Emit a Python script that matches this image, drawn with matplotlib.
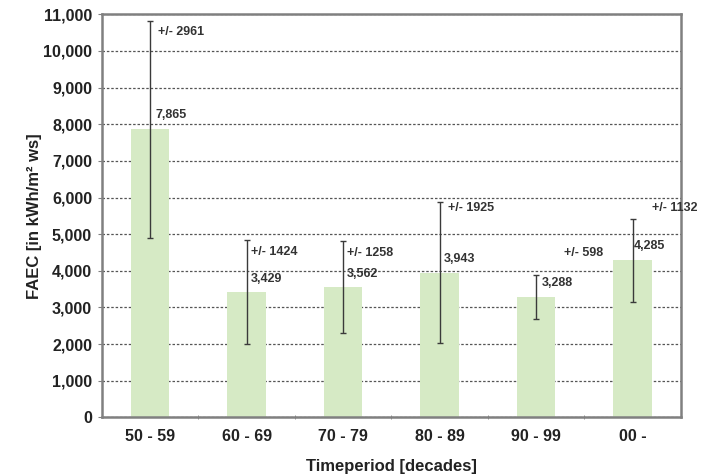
import numpy as np
import matplotlib.pyplot as plt

# decades and mean FAEC values with their spread
periods = ['50 - 59', '60 - 69', '70 - 79', '80 - 89', '90 - 99', '00 -']
faec = [7865, 3429, 3562, 3943, 3288, 4285]
spread = [2961, 1424, 1258, 1925, 598, 1132]

# label offsets in points (value label, spread label), tuned by eye
val_off = [(4, 6), (3, 5), (3, 5), (3, 6), (4, 6), (1, 6)]
err_off = [(6, -8), (3, -9), (3, -9), (6, -4), (20, 16), (14, 8)]

plt.rcParams['font.family'] = ['Liberation Sans', 'DejaVu Sans']
plt.rcParams['font.weight'] = 'bold'
plt.rcParams['axes.labelweight'] = 'bold'

fig = plt.figure(figsize=(7.07, 4.76), dpi=100)
ax = fig.add_axes([0.144, 0.123, 0.819, 0.847])

x = np.arange(len(periods))
ax.bar(x, faec, width=0.4, color='#d6eac5', zorder=2)
ax.errorbar(x, faec, yerr=spread, fmt='none', ecolor='#3a3a3a',
            elinewidth=1.0, capsize=2.5, capthick=1.0, zorder=3)

for i in range(len(x)):
    ax.annotate(f'{faec[i]:,}', (x[i], faec[i]), xytext=val_off[i],
                textcoords='offset points', fontsize=9, color='#333333',
                ha='left', va='bottom', zorder=4)
    ax.annotate(f'+/- {spread[i]}', (x[i], faec[i] + spread[i]), xytext=err_off[i],
                textcoords='offset points', fontsize=9, color='#333333',
                ha='left', va='center', zorder=4)

ax.set_xlim(-0.5, len(x) - 0.5)
ax.set_ylim(0, 11000)
ax.set_yticks(np.arange(0, 11001, 1000))
ax.set_yticklabels([f'{v:,}' for v in range(0, 11001, 1000)], fontsize=11.5, color='#222222')
ax.set_xticks(x)
ax.set_xticklabels(periods, fontsize=11.5, color='#222222')
ax.set_xticks(np.arange(0.5, len(x) - 0.5, 1), minor=True)
ax.tick_params(axis='x', which='major', length=0, pad=8)
ax.tick_params(axis='x', which='minor', length=3, direction='inout', color='#808080')
ax.tick_params(axis='y', length=3, color='#808080', pad=4)

ax.yaxis.grid(True, linestyle=(0, (2, 1.5)), color='#555555', linewidth=0.9, zorder=1)
ax.set_axisbelow(True)
for s in ax.spines.values():
    s.set_color('#808080')
    s.set_linewidth(1.8)

ax.set_ylabel('FAEC [in kWh/m² ws]', fontsize=12, labelpad=1, color='#222222')
ax.set_xlabel('Timeperiod [decades]', fontsize=12, labelpad=11, color='#222222')

fig.savefig('out.png', dpi=100)
